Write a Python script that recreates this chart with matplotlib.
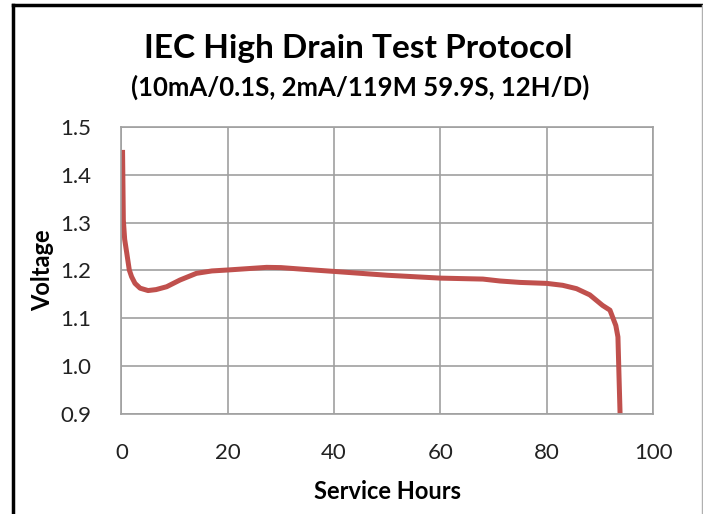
import matplotlib.pyplot as plt
from matplotlib.lines import Line2D

plt.rcParams['font.family'] = ['Lato', 'DejaVu Sans']

hours = [0.2, 0.35, 0.6, 1.0, 1.47, 1.9, 2.54, 3.5, 5.0, 6.5, 8.5, 11.0, 14.1, 17.0, 20.0,
         24.0, 27.3, 30.0, 33.6, 40.0, 50.0, 60.0, 68.0, 71.2, 75.0, 80.0, 83.0, 85.6,
         88.1, 90.5, 91.9, 93.0, 93.4, 93.6, 93.8]
voltage = [1.452, 1.305, 1.265, 1.236, 1.201, 1.187, 1.173, 1.163, 1.158, 1.160, 1.166,
           1.180, 1.194, 1.199, 1.201, 1.204, 1.2065, 1.206, 1.203, 1.198, 1.190, 1.184,
           1.182, 1.178, 1.175, 1.173, 1.169, 1.162, 1.149, 1.127, 1.117, 1.085, 1.061,
           0.98, 0.901]

x_ticks = [0, 20, 40, 60, 80, 100]
y_ticks = [0.9, 1.0, 1.1, 1.2, 1.3, 1.4, 1.5]

fig = plt.figure(figsize=(7.03, 5.14), dpi=100)
ax = fig.add_axes([0.1728, 0.1946, 0.7561, 0.5584])

ax.plot(hours, voltage, color='#C0504D', linewidth=3.6, solid_capstyle='butt')

ax.set_xlim(0, 100)
ax.set_ylim(0.9, 1.5)
ax.set_xticks(x_ticks)
ax.set_yticks(y_ticks)
ax.set_yticklabels([f"{v:.1f}" for v in y_ticks])
ax.grid(True, color='#A0A0A0', linewidth=1.2)
ax.set_axisbelow(True)
for s in ax.spines.values():
    s.set_color('#A0A0A0')
    s.set_linewidth(1.2)
ax.tick_params(length=0, labelsize=16, colors='#222222')
ax.tick_params(axis='x', pad=21)
ax.tick_params(axis='y', pad=22)

ax.set_xlabel('Service Hours', fontsize=17, fontweight='bold', labelpad=12)
ax.set_ylabel('Voltage', fontsize=17, fontweight='bold', labelpad=4)

fig.text(0.51, 0.905, 'IEC High Drain Test Protocol', ha='center', va='center',
         fontsize=24, fontweight='bold')
fig.text(0.512, 0.83, '(10mA/0.1S, 2mA/119M 59.9S, 12H/D)', ha='center', va='center',
         fontsize=18.5, fontweight='bold')

# outer frame like the screenshot
fig.add_artist(Line2D([13/703, 1], [1 - 5/514, 1 - 5/514], color='black', lw=2.5))
fig.add_artist(Line2D([13/703, 13/703], [0, 1 - 5/514], color='black', lw=2.5))
fig.add_artist(Line2D([701.5/703, 701.5/703], [0, 1 - 5/514], color='#B0B0B0', lw=1))

fig.savefig('out.png', dpi=100)
